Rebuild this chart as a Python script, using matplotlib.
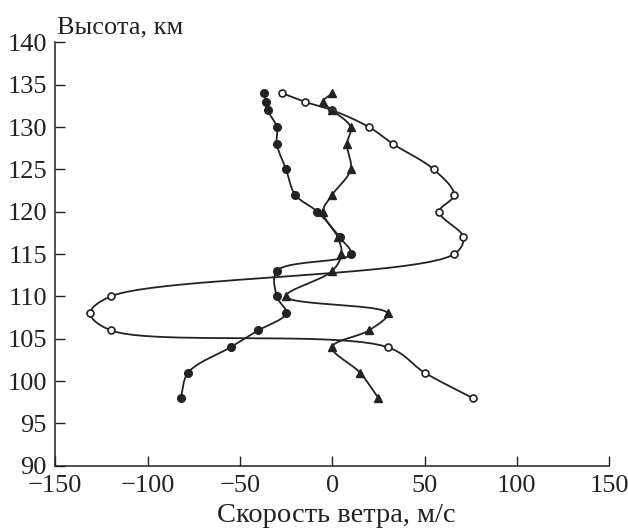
import numpy as np
import matplotlib
matplotlib.use("Agg")
import matplotlib.pyplot as plt

plt.rcParams['font.family'] = ['Liberation Serif', 'DejaVu Serif']

# Wind speed profiles (m/s) against altitude (km)
heights = [134, 133, 132, 130, 128, 125, 122, 120, 117, 115, 113, 110, 108, 106, 104, 101, 98]
wind_filled = [-37, -36, -35, -30, -30, -25, -20, -8, 4, 10, -30, -30, -25, -40, -55, -78, -82]
wind_tri = [0, -5, 0, 10, 8, 10, 0, -5, 3, 5, 0, -25, 30, 20, 0, 15, 25]

heights_open = [134, 133, 132, 130, 128, 125, 122, 120, 117, 115, 110, 108, 106, 104, 101, 98]
wind_open = [-27, -15, 0, 20, 33, 55, 66, 58, 71, 66, -120, -131, -120, 30, 50, 76]

x_ticks = [-150, -100, -50, 0, 50, 100, 150]
y_ticks = [90, 95, 100, 105, 110, 115, 120, 125, 130, 135, 140]


def smooth(v, h, n=24):
    # centripetal Catmull-Rom through the points, in roughly screen-scaled units
    sx, sy = 1.84, 8.42
    P = np.column_stack([np.asarray(v, float) * sx, np.asarray(h, float) * sy])
    P = np.vstack([2 * P[0] - P[1], P, 2 * P[-1] - P[-2]])
    out = []
    for i in range(1, len(P) - 2):
        p0, p1, p2, p3 = P[i - 1], P[i], P[i + 1], P[i + 2]
        t0 = 0.0
        t1 = t0 + np.linalg.norm(p1 - p0) ** 0.5
        t2 = t1 + np.linalg.norm(p2 - p1) ** 0.5
        t3 = t2 + np.linalg.norm(p3 - p2) ** 0.5
        t = np.linspace(t1, t2, n)[:, None]
        a1 = (t1 - t) / (t1 - t0) * p0 + (t - t0) / (t1 - t0) * p1
        a2 = (t2 - t) / (t2 - t1) * p1 + (t - t1) / (t2 - t1) * p2
        a3 = (t3 - t) / (t3 - t2) * p2 + (t - t2) / (t3 - t2) * p3
        b1 = (t2 - t) / (t2 - t0) * a1 + (t - t0) / (t2 - t0) * a2
        b2 = (t3 - t) / (t3 - t1) * a2 + (t - t1) / (t3 - t1) * a3
        c = (t2 - t) / (t2 - t1) * b1 + (t - t1) / (t2 - t1) * b2
        out.append(c if i == 1 else c[1:])
    c = np.vstack(out)
    return c[:, 0] / sx, c[:, 1] / sy


fig = plt.figure(figsize=(6.28, 5.31), dpi=100)
ax = fig.add_axes([0.088, 0.123, 0.882, 0.797])

ink = '#222222'
for v, h in [(wind_filled, heights), (wind_open, heights_open), (wind_tri, heights)]:
    xs, ys = smooth(v, h)
    ax.plot(xs, ys, color=ink, lw=1.3, zorder=2)

ax.plot(wind_filled, heights, 'o', ms=5.5, color=ink, zorder=3)
ax.plot(wind_open, heights_open, 'o', ms=5, mfc='white', mec=ink, mew=1.2, zorder=3)
ax.plot(wind_tri, heights, '^', ms=6, color=ink, zorder=3)

ax.set_xlim(-150, 150)
ax.set_ylim(90, 140)
ax.set_xticks(x_ticks)
ax.set_yticks(y_ticks)
ax.set_xticklabels([str(t).replace('-', '\u2212') for t in x_ticks])
ax.tick_params(direction='in', length=7, width=1, colors=ink, labelsize=19)
ax.tick_params(axis='x', pad=7)
ax.tick_params(axis='y', pad=6)
for s in ['top', 'right']:
    ax.spines[s].set_visible(False)
for s in ['left', 'bottom']:
    ax.spines[s].set_color(ink)
    ax.spines[s].set_linewidth(1.1)

fig.text(0.535, 1 - 516 / 531, 'Скорость ветра, м/с', fontsize=20.5, color=ink,
         ha='center', va='center')
fig.text(0.091, 1 - 33 / 531, 'Высота, км', fontsize=19, color=ink,
         ha='left', va='baseline')

fig.savefig('out.png', dpi=100)
